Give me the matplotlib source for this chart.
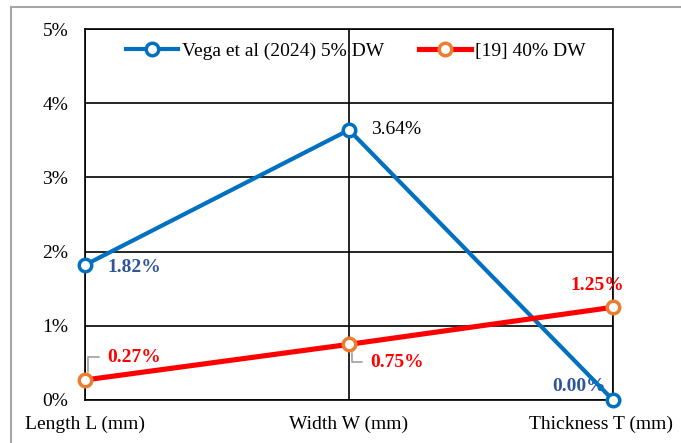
import matplotlib.pyplot as plt
from matplotlib.patches import Rectangle
from matplotlib.ticker import PercentFormatter
from matplotlib.transforms import ScaledTranslation, offset_copy

plt.rcParams['font.family'] = ['Liberation Serif', 'DejaVu Serif']

categories = ['Length L (mm)', 'Width W (mm)', 'Thickness T (mm)']
vega = [1.82, 3.64, 0.00]
ref19 = [0.27, 0.75, 1.25]

fig = plt.figure(figsize=(6.81, 4.43), dpi=100)
# grey frame around the chart area
fig.patches.append(Rectangle((11 / 681, -0.01), 1.0, 1 - 7 / 443 + 0.01,
                             transform=fig.transFigure, fill=False,
                             edgecolor='#A6A6A6', linewidth=1.5))

ax = fig.add_axes([85 / 681, 1 - 400 / 443, (613 - 85) / 681, (400 - 29) / 443])
x = list(range(len(categories)))

ax.plot(x, vega, color='#0070C0', linewidth=3, marker='o', markersize=9,
        markerfacecolor='white', markeredgecolor='#0070C0', markeredgewidth=2.5,
        label='Vega et al (2024) 5% DW', zorder=4, clip_on=False)
ax.plot(x, ref19, color='#FF0000', linewidth=3.7, marker='o', markersize=9,
        markerfacecolor='white', markeredgecolor='#ED7D31', markeredgewidth=2.5,
        label='[19] 40% DW', zorder=4, clip_on=False)

ax.set_xlim(0, 2)
ax.set_ylim(0, 5)
ax.set_yticks([0, 1, 2, 3, 4, 5])
ax.yaxis.set_major_formatter(PercentFormatter(decimals=0))
ax.set_xticks(x)
ax.set_xticklabels(categories)
ax.tick_params(length=0, labelsize=14, colors='black')
ax.tick_params(axis='y', pad=12)
ax.tick_params(axis='x', pad=11)
# last category label is pushed left so it stays inside the chart
last = ax.get_xticklabels()[-1]
last.set_transform(last.get_transform() + ScaledTranslation(-0.12, 0, fig.dpi_scale_trans))

ax.grid(True, color='black', linewidth=1.2)
ax.set_axisbelow(True)
for s in ax.spines.values():
    s.set_linewidth(1.2)

# data labels
blue_lbl = '#2F5597'
ax.annotate('1.82%', (0, vega[0]), xytext=(16, -1.5), textcoords='offset points',
            color=blue_lbl, fontsize=14, fontweight='bold', va='center')
ax.annotate('3.64%', (1, vega[1]), xytext=(16, 0), textcoords='offset points',
            color='black', fontsize=14, va='center')
ax.annotate('0.00%', (2, vega[2]), xytext=(-5, 9.5), textcoords='offset points',
            color=blue_lbl, fontsize=14, fontweight='bold', va='center', ha='right',
            zorder=3)

# leader lines start a little right of the point so they don't hide under the grid
lead_xy = offset_copy(ax.transData, fig=fig, x=3, y=0, units='dots')
ax.annotate('0.27%', (0, ref19[0]), xycoords=lead_xy, xytext=(14, 16.5),
            textcoords='offset points',
            color='#FF0000', fontsize=14, fontweight='bold', va='center',
            arrowprops=dict(arrowstyle='-', color='#A6A6A6', lw=1.3,
                            connectionstyle='angle,angleA=0,angleB=90,rad=0',
                            shrinkA=4, shrinkB=6))
ax.annotate('0.75%', (1, ref19[1]), xycoords=lead_xy, xytext=(13, -13),
            textcoords='offset points',
            color='#FF0000', fontsize=14, fontweight='bold', va='center',
            arrowprops=dict(arrowstyle='-', color='#A6A6A6', lw=1.3,
                            connectionstyle='angle,angleA=0,angleB=90,rad=0',
                            shrinkA=4, shrinkB=6))
ax.annotate('1.25%', (2, ref19[2]), xytext=(-11, 16), textcoords='offset points',
            color='#FF0000', fontsize=14, fontweight='bold', va='center', ha='center')

ax.legend(loc='center left', ncol=2, frameon=False, fontsize=14,
          bbox_to_anchor=((126 - 85) / 528, (400 - 51) / 371),
          borderpad=0, borderaxespad=0, handlelength=2.67, columnspacing=1.8,
          handletextpad=0.2)

fig.savefig('out.png', dpi=100)
